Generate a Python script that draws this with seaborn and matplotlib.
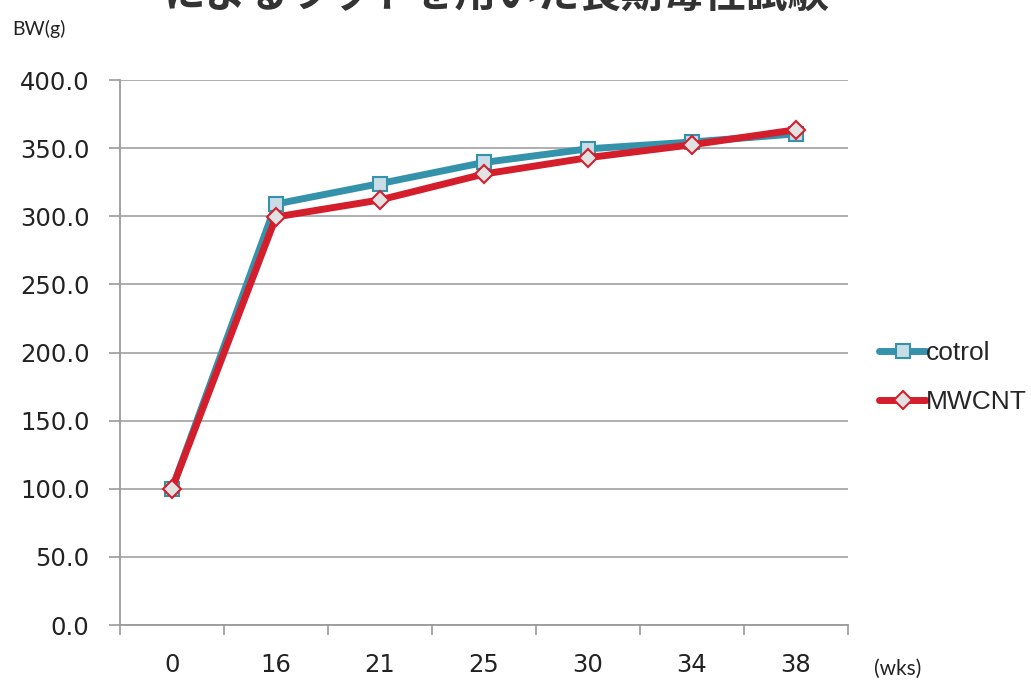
import matplotlib
matplotlib.use("Agg")
import matplotlib.pyplot as plt
import seaborn as sns
import pandas as pd
import numpy as np

# データ
weeks = ["0", "16", "21", "25", "30", "34", "38"]
control_bw = [100.0, 309.0, 324.0, 339.5, 349.5, 354.5, 360.5]
mwcnt_bw = [100.0, 299.5, 312.0, 331.0, 343.0, 352.5, 363.5]
series_names = ["cotrol", "MWCNT"]
title_text = "によるラットを用いた長期毒性試験"

df = pd.DataFrame({
    "week": weeks * 2,
    "bw": control_bw + mwcnt_bw,
    "group": [series_names[0]] * len(weeks) + [series_names[1]] * len(weeks),
})

sns.set_theme(style="white")
plt.rcParams["font.family"] = ["DejaVu Sans", "Noto Sans CJK JP"]

fig = plt.figure(figsize=(10.31, 6.81), dpi=100)
ax = fig.add_axes([0.1164, 0.0822, 0.7061, 0.8003])

colors = {"cotrol": "#3592ab", "MWCNT": "#d41e2c"}
sns.lineplot(data=df, x="week", y="bw", hue="group", palette=colors,
             sort=False, linewidth=5, legend=False, ax=ax, zorder=3)

# マーカー
for line, name in zip(ax.get_lines(), series_names):
    if name == "cotrol":
        line.set_marker("s")
        line.set_markersize(10)
        line.set_markerfacecolor("#c9dde6")
        line.set_markeredgecolor("#3592ab")
        line.set_markeredgewidth(1.5)
    else:
        line.set_marker("D")
        line.set_markersize(9.5)
        line.set_markerfacecolor("#e2e2e2")
        line.set_markeredgecolor("#d41e2c")
        line.set_markeredgewidth(1.5)

ax.set_ylim(0, 400)
ax.set_xlim(-0.5, len(weeks) - 0.5)
ax.set_yticks(np.arange(0, 401, 50))
ax.set_yticklabels([f"{v:.1f}" for v in np.arange(0, 401, 50)], fontsize=17.5, color="#222222")
ax.set_xticks(np.arange(-0.5, len(weeks), 1))
ax.set_xticklabels([])
ax.set_xticks(np.arange(len(weeks)), minor=True)
ax.set_xticklabels(weeks, minor=True, fontsize=17.5, color="#222222")
ax.tick_params(axis="x", which="major", length=7, width=1.2, color="#9a9a9a", direction="out", bottom=True)
ax.tick_params(axis="x", which="minor", length=0, pad=20)
ax.tick_params(axis="y", length=8, width=1.2, color="#9a9a9a", direction="out", left=True, pad=14)

ax.yaxis.grid(True, color="#a8a8a8", linewidth=1.3)
ax.set_axisbelow(True)
for side in ["top", "right"]:
    ax.spines[side].set_visible(False)
for side in ["left", "bottom"]:
    ax.spines[side].set_color("#9a9a9a")
    ax.spines[side].set_linewidth(1.3)
ax.set_xlabel("")
ax.set_ylabel("")

# 凡例
handles = [line for line in ax.get_lines()[:2]]
fig.legend(handles, series_names, loc="center left", bbox_to_anchor=(0.853, 0.446),
           frameon=False, prop={"family": "Liberation Sans", "size": 19},
           handlelength=1.75, handletextpad=0.0, labelspacing=0.95,
           borderaxespad=0, borderpad=0)

fig.text(0.012, 0.958, "BW(g)", fontsize=14, family="Lato", color="#222222", va="center")
fig.text(0.848, 0.018, "(wks)", fontsize=15, family="Lato", color="#222222", va="center")
fig.text(0.482, 1 - 7 / 681, title_text, fontsize=30, fontweight="bold",
         family=["Noto Sans CJK JP", "DejaVu Sans"],
         color="#333333", ha="center", va="baseline")

fig.savefig("out.png", dpi=100)
